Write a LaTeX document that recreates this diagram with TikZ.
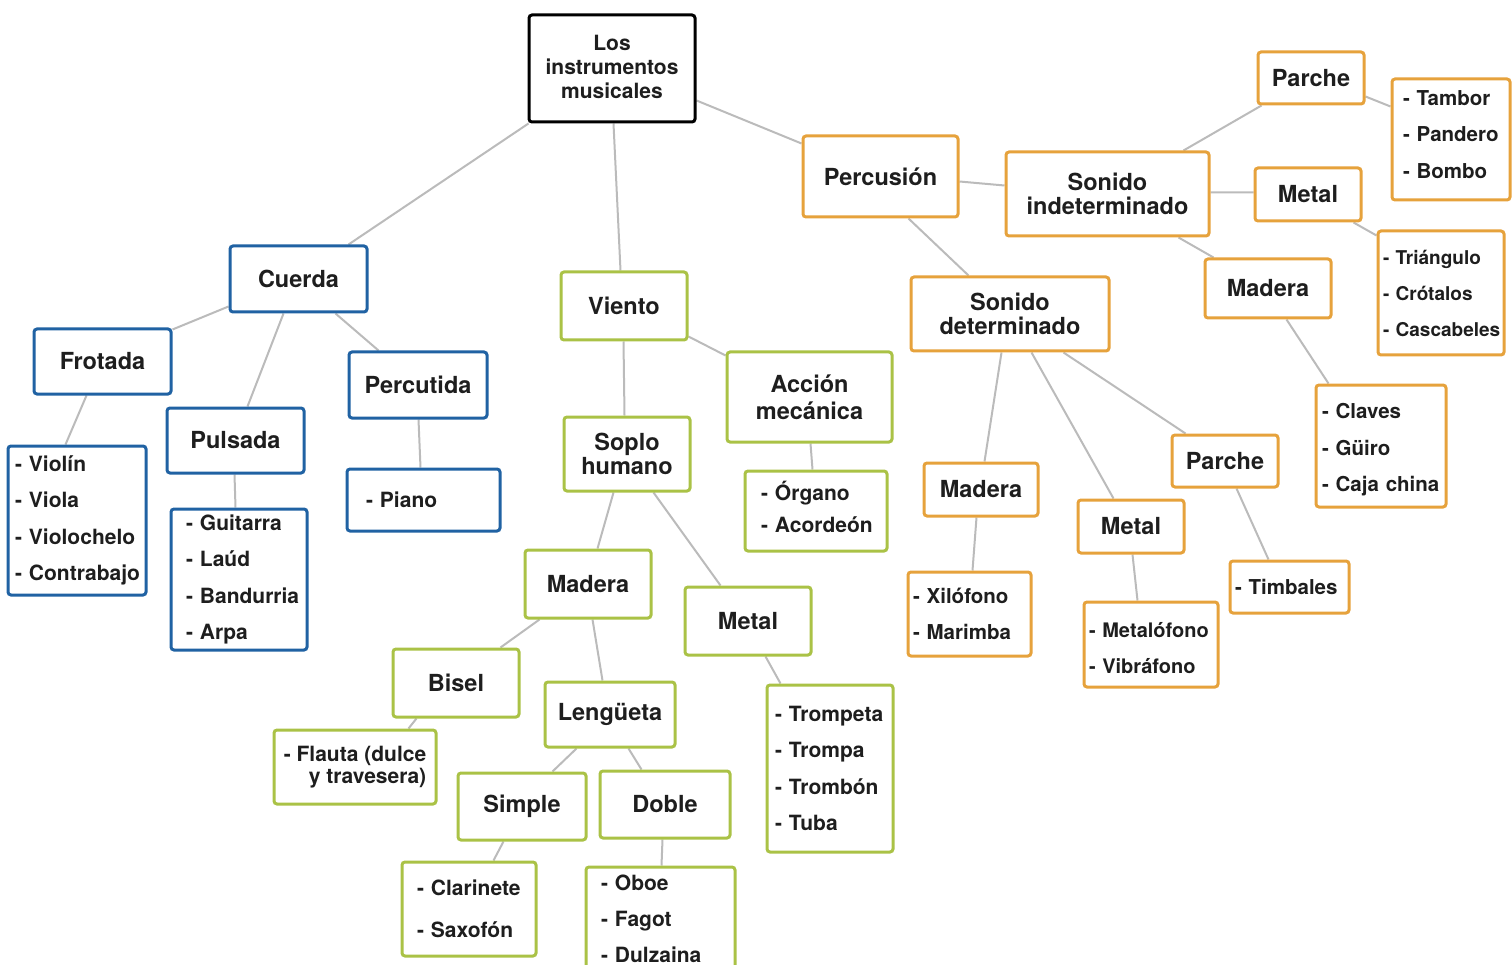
\documentclass[tikz,border=0pt]{standalone}
\usepackage{fontspec}
\setmainfont{TeX Gyre Heros}
\usetikzlibrary{calc}
\definecolor{cblue}{HTML}{2062A3}
\definecolor{cgreen}{HTML}{AAC246}
\definecolor{corange}{HTML}{E6A23C}
\definecolor{cedge}{HTML}{BBBBBB}
\definecolor{txt}{HTML}{1E1E1E}
\pgfdeclarelayer{bg}
\pgfsetlayers{bg,main}
\newcommand\lblfont{\fontsize{23.5}{24}\selectfont\bfseries}
\newcommand\lstfont{\fontsize{21}{36.3}\selectfont\bfseries}
\newcommand\Li[1]{\mbox{-~#1}}
\newcommand\Dn[1]{\raisebox{-3pt}{#1}}
\tikzset{
  box/.style={draw, line width=3pt, rounded corners=3pt, fill=white, inner sep=0pt, text=txt},
  cat/.style={box, align=center, font=\lblfont},
  lst/.style={box, align=left, font=\lstfont},
  bl/.style={draw=cblue},
  gr/.style={draw=cgreen},
  og/.style={draw=corange},
  sz/.style 2 args={minimum width=#1pt, minimum height=#2pt},
  edge/.style={draw=cedge, line width=2pt}
}
\begin{document}
\begin{tikzpicture}[x=1pt,y=-1pt]
\useasboundingbox (0,0) rectangle (1512,965);
\clip (0,0) rectangle (1512,965);
% root
\node[box, draw=black, align=center, font=\fontsize{21}{24}\selectfont\bfseries, sz={166}{107}] (root) at (612,68.5) {\raisebox{3pt}{Los}\\\raisebox{3pt}{instrumentos}\\\raisebox{3pt}{musicales}};
% Cuerda branch
\node[cat, bl, sz={137}{66}] (cuer) at (298.5,279) {Cuerda};
\node[cat, bl, sz={137}{65}] (frot) at (102.5,361.5) {Frotada};
\node[lst, bl, sz={138}{149}, text width=124pt] (viol) at (77,520.5) {\Li{Violín}\\\Li{Viola}\\\Li{Violochelo}\\\Li{Contrabajo}};
\node[cat, bl, sz={137}{65}] (puls) at (235.5,440.5) {Pulsada};
\node[lst, bl, sz={136}{141}, text width=106pt] (guit) at (239,579.5) {\Li{Guitarra}\\\Li{Laúd}\\\Li{Bandurria}\\\Li{Arpa}};
\node[cat, bl, sz={138}{66}] (perc) at (418,385) {Percutida};
\node[lst, bl, sz={153}{62}, text width=115pt] (pian) at (423.5,500) {\Li{Piano}};
% Viento branch
\node[cat, gr, sz={126}{68}] (vien) at (624,306) {Viento};
\node[cat, gr, sz={165}{90}, font=\fontsize{23.5}{27}\selectfont\bfseries] (acci) at (809.5,397) {Acción\\mecánica};
\node[lst, gr, sz={142}{80}, text width=110pt, font=\fontsize{21}{32}\selectfont\bfseries] (orga) at (816,511) {\Li{Órgano}\\\Li{Acordeón}\par\vspace{8pt}};
\node[cat, gr, sz={126}{74}] (sopl) at (627,454) {Soplo\\humano};
\node[cat, gr, sz={126}{68}] (madv) at (588,584) {Madera};
\node[cat, gr, sz={126}{68}] (metv) at (748,621) {Metal};
\node[lst, gr, sz={126}{167}, text width=110pt] (trom) at (830,768.5) {\Li{Trompeta}\\\Li{Trompa}\\\Li{Trombón}\\\Li{Tuba}};
\node[cat, gr, sz={126}{68}] (bise) at (456,683) {Bisel};
\node[box, gr, sz={162}{74}, align=right, font=\fontsize{21}{22}\selectfont\bfseries] (flau) at (355,767) {\mbox{-~Flauta (dulce}\\\mbox{y travesera)}};
\node[cat, gr, sz={130}{65}] (leng) at (610,714.5) {Lengüeta};
\node[cat, gr, sz={128}{67}] (simp) at (522,806.5) {Simple};
\node[cat, gr, sz={130}{67}] (dobl) at (665,804.5) {Doble};
\node[lst, gr, sz={134}{94}, text width=104pt, font=\fontsize{21}{42}\selectfont\bfseries] (clar) at (469,909) {\Li{Clarinete}\\\Li{Saxofón}};
\node[lst, gr, sz={149}{104}, text width=119pt] (oboe) at (660.5,919) {\Li{Oboe}\\\Li{Fagot}\\\Li{Dulzaina}};
% Percusion branch
\node[cat, og, sz={155}{81}] (pcsn) at (880.5,176.5) {Percusión};
\node[cat, og, sz={203}{84}] (sind) at (1107.5,194) {\Dn{Sonido}\\\Dn{indeterminado}};
\node[cat, og, sz={198}{74}] (sdet) at (1010,314) {\Dn{Sonido}\\\Dn{determinado}};
\node[cat, og, sz={106}{52}] (parT) at (1311,78) {Parche};
\node[lst, og, sz={118}{121}, text width=96pt, font=\fontsize{20.5}{36.5}\selectfont\bfseries] (tamb) at (1451,139.5) {\Li{Tambor}\\\Li{Pandero}\\\Li{Bombo}\par\vspace{10pt}};
\node[cat, og, sz={106}{53}] (metT) at (1308,194.5) {Metal};
\node[lst, og, sz={126}{124}, text width=116pt, font=\fontsize{19}{36}\selectfont\bfseries] (tria) at (1441,293) {\Li{Triángulo}\\\Li{Crótalos}\\\Li{Cascabeles}};
\node[cat, og, sz={126}{59}] (madT) at (1268,288.5) {Madera};
\node[lst, og, sz={130}{122}, text width=118pt, font=\fontsize{20.5}{36.5}\selectfont\bfseries] (clav) at (1381,446) {\Li{Claves}\\\Li{Güiro}\\\Li{Caja china}\par\vspace{-8pt}};
\node[cat, og, sz={114}{53}] (madD) at (981,489.5) {Madera};
\node[lst, og, sz={123}{84}, text width=113pt, font=\fontsize{20.5}{36}\selectfont\bfseries] (xilo) at (969.5,614) {\Li{Xilófono}\\\Li{Marimba}};
\node[cat, og, sz={106}{53}] (metD) at (1131,526.5) {Metal};
\node[lst, og, sz={134}{85}, text width=124pt, font=\fontsize{20}{36}\selectfont\bfseries] (mtlf) at (1151,644.5) {\Li{Metalófono}\\\Li{Vibráfono}\par\vspace{-8pt}};
\node[cat, og, sz={106}{52}] (parD) at (1225,461) {Parche};
\node[lst, og, sz={119}{52}, text width=109pt, font=\fontsize{20.5}{36}\selectfont\bfseries] (timb) at (1289.5,587) {\Li{Timbales}};
% connectors
\begin{pgfonlayer}{bg}
\path[edge]
  ([xshift=1pt]root.south west) -- ([xshift=120pt]cuer.north west)
  ([xshift=86pt]root.south west) -- ([xshift=61pt]vien.north west)
  ([yshift=-87pt]root.north east) -- ([yshift=-9pt]pcsn.north west)
  ([yshift=-62pt]cuer.north west) -- ([yshift=-2pt]frot.north east)
  ([xshift=55pt]cuer.south west) -- ([xshift=82pt]puls.north west)
  ([xshift=107pt]cuer.south west) -- ([xshift=31pt]perc.north west)
  ([xshift=54pt]frot.south west) -- ([xshift=59pt]viol.north west)
  ([xshift=69pt]puls.south west) -- ([xshift=66pt]guit.north west)
  ([xshift=71pt]perc.south west) -- ([xshift=75pt]pian.north west)
  ([xshift=64pt]vien.south west) -- ([xshift=62pt]sopl.north west)
  ([yshift=-66pt]vien.north east) -- ([yshift=-5pt]acci.north west)
  ([xshift=85pt]acci.south west) -- ([xshift=69pt]orga.north west)
  ([xshift=51pt]sopl.south west) -- ([xshift=74pt]madv.north west)
  ([xshift=91pt]sopl.south west) -- ([xshift=37pt]metv.north west)
  ([xshift=16pt]madv.south west) -- ([xshift=109pt]bise.north west)
  ([xshift=69pt]madv.south west) -- ([xshift=59pt]leng.north west)
  ([xshift=82pt]metv.south west) -- ([xshift=15pt]trom.north west)
  ([xshift=25pt]bise.south west) -- ([xshift=136pt]flau.north west)
  ([xshift=33pt]leng.south west) -- ([xshift=96pt]simp.north west)
  ([xshift=85pt]leng.south west) -- ([xshift=43pt]dobl.north west)
  ([xshift=47pt]simp.south west) -- ([xshift=93pt]clar.north west)
  ([xshift=64pt]dobl.south west) -- ([xshift=77pt]oboe.north west)
  ([yshift=-47pt]pcsn.north east) -- ([yshift=-35pt]sind.north west)
  ([xshift=107pt]pcsn.south west) -- ([xshift=59pt]sdet.north west)
  ([xshift=179pt]sind.north west) -- ([xshift=5pt]parT.south west)
  ([yshift=-46pt]parT.north east) -- ([yshift=-29pt]tamb.north west)
  ([yshift=-42pt]sind.north east) -- ([yshift=-26pt]metT.north west)
  ([xshift=100pt]metT.south west) -- ([yshift=-6pt]tria.north west)
  ([xshift=174pt]sind.south west) -- ([xshift=10pt]madT.north west)
  ([xshift=83pt]madT.south west) -- ([xshift=14pt]clav.north west)
  ([xshift=92pt]sdet.south west) -- ([xshift=62pt]madD.north west)
  ([xshift=122pt]sdet.south west) -- ([xshift=37pt]metD.north west)
  ([xshift=154pt]sdet.south west) -- ([xshift=15pt]parD.north west)
  ([xshift=54pt]madD.south west) -- ([xshift=66pt]xilo.north west)
  ([xshift=56pt]metD.south west) -- ([xshift=55pt]mtlf.north west)
  ([xshift=66pt]parD.south west) -- ([xshift=40pt]timb.north west);
\end{pgfonlayer}
\end{tikzpicture}
\end{document}
